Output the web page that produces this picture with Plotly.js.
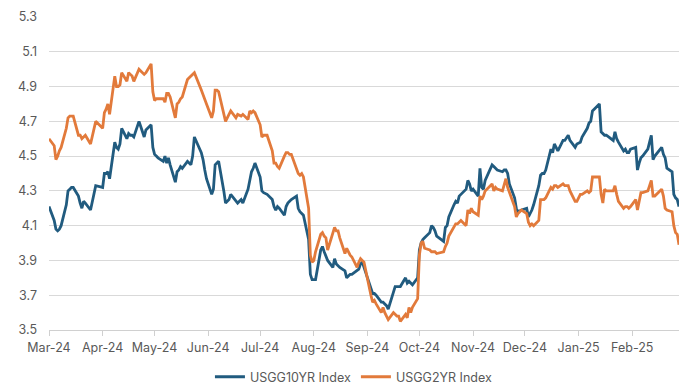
<!DOCTYPE html>
<html>
<head>
<meta charset="utf-8">
<script src="https://cdn.plot.ly/plotly-3.0.1.min.js"></script>
<style>html,body{margin:0;padding:0;background:#fff;}#chart{width:694px;height:390px;}</style>
</head>
<body>
<div id="chart"></div>
<script>
// Series names
const seriesNames = ["USGG10YR Index", "USGG2YR Index"];

// Business-day values, month by month (Mar-24 .. Feb-25)
const usgg10yr = [
  // Mar-24
  4.21,4.13,4.08,4.07,4.08,4.10,4.22,4.30,4.31,4.32,4.32,4.27,4.23,4.20,4.24,4.23,4.19,4.24,4.28,4.33,
  // Apr-24
  4.32,4.40,4.40,4.41,4.37,4.58,4.55,4.54,4.57,4.66,4.60,4.63,4.62,4.62,4.61,4.70,4.67,4.64,4.61,4.65,4.68,4.55,
  // May-24
  4.51,4.50,4.49,4.47,4.50,4.46,4.49,4.45,4.35,4.41,4.42,4.44,4.43,4.47,4.46,4.45,4.50,4.61,4.52,4.48,4.42,4.37,
  // Jun-24
  4.28,4.31,4.45,4.46,4.47,4.30,4.23,4.24,4.25,4.28,4.24,4.23,4.25,4.23,4.31,4.36,4.41,4.43,4.46,
  // Jul-24
  4.38,4.30,4.29,4.28,4.25,4.21,4.19,4.21,4.20,4.16,4.21,4.23,4.24,4.25,4.27,4.20,4.18,4.17,4.16,4.02,3.82,3.79,
  // Aug-24
  3.79,3.79,3.96,3.98,3.95,3.92,3.90,3.86,3.91,3.88,3.87,3.86,3.84,3.80,3.81,3.82,3.82,3.84,3.85,3.88,3.89,3.86,
  // Sep-24
  3.74,3.71,3.71,3.70,3.66,3.66,3.65,3.64,3.62,3.71,3.75,3.75,3.75,3.75,3.80,3.77,3.78,3.77,3.76,3.80,
  // Oct-24
  3.96,4.00,4.02,4.03,4.06,4.10,4.09,4.07,4.04,4.01,4.09,4.10,4.15,4.22,4.24,4.23,4.27,4.28,4.31,4.36,4.34,4.30,
  // Nov-24
  4.31,4.27,4.43,4.32,4.31,4.36,4.45,4.44,4.43,4.42,4.41,4.42,4.42,4.40,4.34,4.26,4.20,4.18,4.19,
  // Dec-24
  4.20,4.15,4.17,4.19,4.22,4.33,4.39,4.40,4.40,4.42,4.54,4.52,4.57,4.55,4.53,4.59,4.59,4.62,4.59,4.55,4.57,
  // Jan-25
  4.58,4.61,4.66,4.69,4.70,4.76,4.77,4.80,4.64,4.63,4.62,4.62,4.59,4.64,4.60,4.58,4.53,4.54,4.52,4.52,4.54,
  // Feb-25
  4.55,4.42,4.46,4.49,4.50,4.54,4.58,4.62,4.48,4.50,4.55,4.51,4.49,4.43,4.41,4.28,4.26,4.25,4.21
];

const usgg2yr = [
  // Mar-24
  4.60,4.56,4.48,4.50,4.53,4.55,4.66,4.72,4.73,4.73,4.73,4.62,4.62,4.60,4.61,4.62,4.57,4.62,4.66,4.70,
  // Apr-24
  4.66,4.75,4.77,4.80,4.74,4.96,4.90,4.90,4.91,4.98,4.93,4.98,4.97,4.96,4.93,5.00,4.99,4.98,4.97,4.98,5.03,4.87,
  // May-24
  4.82,4.83,4.83,4.83,4.81,4.86,4.86,4.84,4.72,4.80,4.81,4.83,4.84,4.94,4.95,4.96,4.97,4.98,4.88,4.85,4.83,4.80,
  // Jun-24
  4.72,4.76,4.88,4.88,4.87,4.75,4.70,4.72,4.74,4.76,4.72,4.74,4.73,4.74,4.71,4.76,4.75,4.76,4.75,
  // Jul-24
  4.68,4.61,4.62,4.62,4.53,4.46,4.46,4.44,4.43,4.50,4.52,4.52,4.51,4.51,4.42,4.40,4.39,4.40,4.38,4.20,3.93,3.89,
  // Aug-24
  3.90,3.95,4.05,4.06,4.04,4.03,3.96,4.06,4.09,4.07,4.07,4.03,3.94,3.97,3.95,3.93,3.92,3.86,3.89,3.91,3.90,3.89,
  // Sep-24
  3.70,3.66,3.67,3.65,3.60,3.63,3.60,3.58,3.56,3.60,3.59,3.58,3.58,3.55,3.59,3.57,3.63,3.60,3.63,3.68,
  // Oct-24
  3.93,4.00,4.01,3.97,3.96,3.95,3.95,3.95,3.94,3.95,3.98,4.00,4.04,4.09,4.11,4.11,4.12,4.13,4.10,4.19,4.17,4.20,
  // Nov-24
  4.18,4.16,4.27,4.25,4.27,4.30,4.34,4.30,4.32,4.31,4.30,4.33,4.37,4.32,4.29,4.21,4.15,4.17,4.19,
  // Dec-24
  4.17,4.12,4.10,4.11,4.10,4.13,4.25,4.25,4.25,4.26,4.32,4.31,4.33,4.33,4.32,4.34,4.33,4.33,4.30,4.24,4.24,
  // Jan-25
  4.28,4.28,4.30,4.29,4.30,4.38,4.38,4.38,4.28,4.23,4.31,4.30,4.30,4.33,4.28,4.24,4.20,4.21,4.21,4.20,4.21,
  // Feb-25
  4.25,4.19,4.24,4.29,4.29,4.30,4.33,4.36,4.27,4.27,4.31,4.27,4.20,4.19,4.18,4.10,4.06,4.05,3.99
];

// Trading calendar (weekdays minus US bond-market holidays)
const startDate = "2024-03-01";
const endDate = "2025-02-28";
const holidays = ["2024-03-29","2024-05-27","2024-06-19","2024-07-04","2024-09-02","2024-10-14",
                  "2024-11-11","2024-11-28","2024-12-25","2025-01-01","2025-01-20","2025-02-17"];

function tradingDays(s, e, hol) {
  const out = [];
  const d = new Date(s + "T00:00:00Z");
  const end = new Date(e + "T00:00:00Z");
  while (d <= end) {
    const wd = d.getUTCDay();
    const iso = d.toISOString().slice(0, 10);
    if (wd !== 0 && wd !== 6 && hol.indexOf(iso) < 0) out.push(iso);
    d.setUTCDate(d.getUTCDate() + 1);
  }
  return out;
}
const dates = tradingDays(startDate, endDate, holidays);

const colors = ["#215B7F", "#E27A3B"];
const font = "Inter, 'Noto Sans', 'DejaVu Sans', sans-serif";

const traces = [
  {x: dates, y: usgg10yr, name: seriesNames[0], type: "scatter", mode: "lines",
   line: {color: colors[0], width: 2.8}},
  {x: dates, y: usgg2yr, name: seriesNames[1], type: "scatter", mode: "lines",
   line: {color: colors[1], width: 2.8}}
];

const layout = {
  width: 694, height: 390,
  margin: {l: 49, r: 15, t: 17, b: 60},
  paper_bgcolor: "#ffffff", plot_bgcolor: "#ffffff",
  font: {family: font, size: 12.5, color: "#595959"},
  showlegend: true,
  legend: {orientation: "h", xref: "container", yref: "container", x: 0.51, y: 0.033,
           xanchor: "center", yanchor: "middle", font: {size: 12.5, color: "#595959"},
           itemwidth: 30, tracegroupgap: 0},
  xaxis: {type: "date", range: [startDate, endDate], tickformat: "%b-%y",
          dtick: "M1", tick0: "2024-03-01", ticks: "outside", ticklen: 5, tickcolor: "#d0d0d0",
          showgrid: false, showline: true, linecolor: "#d0d0d0", linewidth: 1,
          zeroline: false, ticklabelstandoff: 1, tickfont: {size: 12.5, color: "#595959"}},
  yaxis: {range: [3.5, 5.3], dtick: 0.2, tick0: 3.5, tickformat: ".1f",
          showgrid: true, gridcolor: "#d9d9d9", gridwidth: 1, zeroline: false,
          showline: false, ticks: "", ticklabelstandoff: 11, tickfont: {size: 12.5, color: "#595959"}}
};

Plotly.newPlot("chart", traces, layout, {staticPlot: true, displayModeBar: false});
</script>
</body>
</html>
